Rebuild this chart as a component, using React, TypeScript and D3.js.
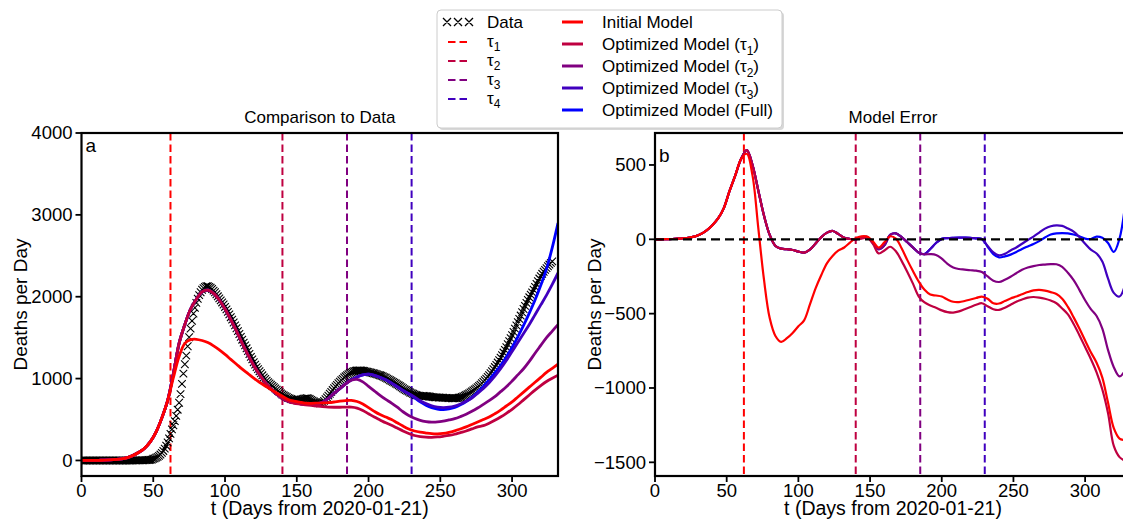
import React from "react";
import * as d3 from "d3";

// daily deaths (7-day smoothed), day 0 = 2020-01-21
const deaths = [
  0, 0, 0, 0, 0, 0, 0, 0, 0, 0,
  0, 0, 0, 0, 0, 0, 0, 0, 0, 0,
  0, 0, 0, 0, 0, 0, 0, 0, 0, 0,
  0, 0, 0, 0, 0, 0, 1, 1, 1, 1,
  1, 2, 2, 3, 3, 4, 5, 6, 8, 10,
  20, 26, 34, 44, 56, 72, 92, 116, 145, 180,
  220, 270, 325, 380, 430, 480, 545, 620, 705, 810,
  935, 1060, 1175, 1280, 1395, 1505, 1610, 1705, 1795, 1865,
  1925, 1975, 2020, 2055, 2085, 2105, 2120, 2130, 2128, 2120,
  2110, 2095, 2075, 2055, 2030, 2005, 1980, 1955, 1930, 1905,
  1875, 1845, 1815, 1785, 1750, 1720, 1685, 1650, 1615, 1580,
  1545, 1510, 1475, 1440, 1405, 1370, 1335, 1300, 1265, 1235,
  1200, 1170, 1140, 1115, 1090, 1065, 1040, 1015, 995, 975,
  955, 940, 925, 910, 895, 880, 865, 850, 835, 820,
  805, 795, 785, 775, 765, 758, 750, 745, 740, 737,
  735, 737, 740, 745, 750, 755, 758, 760, 757, 750,
  740, 730, 720, 712, 705, 700, 698, 702, 712, 728,
  748, 770, 792, 815, 838, 860, 882, 903, 923, 943,
  962, 980, 997, 1013, 1028, 1042, 1055, 1066, 1076, 1084,
  1090, 1095, 1098, 1100, 1100, 1098, 1095, 1092, 1088, 1084,
  1080, 1076, 1072, 1067, 1062, 1057, 1052, 1046, 1040, 1034,
  1027, 1018, 1010, 1000, 990, 980, 970, 960, 950, 940,
  930, 918, 906, 894, 882, 870, 860, 850, 840, 830,
  822, 814, 807, 800, 795, 791, 789, 788, 788, 787,
  786, 784, 781, 778, 776, 774, 772, 771, 770, 769,
  768, 767, 766, 765, 764, 763, 762, 761, 760, 760,
  760, 761, 763, 766, 770, 775, 782, 790, 799, 809,
  820, 831, 843, 855, 868, 881, 895, 910, 926, 943,
  961, 980, 1000, 1021, 1043, 1066, 1090, 1115, 1141, 1168,
  1196, 1225, 1255, 1286, 1318, 1351, 1385, 1420, 1456, 1493,
  1531, 1570, 1610, 1650, 1690, 1730, 1770, 1810, 1850, 1888,
  1925, 1960, 1993, 2024, 2053, 2085, 2120, 2155, 2190, 2222,
  2252, 2280, 2305, 2328, 2350, 2372, 2393, 2413, 2432,
];

// model curves, every 4 days from 0 to 332
const initialModel = [
  0, 0, 1, 2, 4, 7, 12, 20, 35, 62,
  100, 150, 230, 350, 520, 730, 1010, 1270, 1430, 1475,
  1480, 1465, 1440, 1400, 1350, 1295, 1235, 1175, 1115, 1060,
  1005, 955, 910, 865, 825, 785, 745, 725, 712, 700,
  698, 700, 702, 706, 714, 725, 732, 733, 720, 690,
  645, 600, 560, 530, 500, 460, 420, 385, 360, 345,
  335, 327, 325, 330, 343, 362, 385, 410, 440, 470,
  500, 530, 570, 615, 665, 715, 775, 835, 895, 955,
  1015, 1075, 1125, 1175,
];
const optTau1 = [
  0, 0, 1, 2, 4, 7, 12, 20, 35, 62,
  100, 150, 230, 350, 520, 730, 1060, 1430, 1660, 1850,
  1970, 2060, 2080, 2040, 1960, 1850, 1720, 1580, 1430, 1290,
  1160, 1050, 955, 875, 810, 760, 725, 700, 688, 680,
  672, 664, 657, 652, 650, 650, 652, 652, 640, 610,
  570, 530, 495, 460, 430, 395, 360, 330, 305, 292,
  285, 283, 287, 295, 305, 320, 340, 360, 385, 410,
  425, 455, 490, 530, 575, 625, 680, 740, 800, 860,
  915, 965, 1005, 1040,
];
const optTau2 = [
  0, 0, 1, 2, 4, 7, 12, 20, 35, 62,
  100, 150, 230, 350, 520, 730, 1060, 1430, 1660, 1850,
  1970, 2060, 2080, 2040, 1960, 1850, 1720, 1580, 1430, 1290,
  1160, 1050, 955, 875, 810, 760, 725, 705, 695, 690,
  685, 690, 710, 760, 820, 877, 935, 980, 990, 960,
  905, 850, 795, 745, 700, 650, 595, 550, 515, 490,
  475, 468, 470, 480, 495, 510, 535, 565, 600, 640,
  685, 730, 780, 840, 900, 970, 1045, 1120, 1210, 1310,
  1405, 1500, 1580, 1660,
];
const optTau3 = [
  0, 0, 1, 2, 4, 7, 12, 20, 35, 62,
  100, 150, 230, 350, 520, 730, 1060, 1430, 1660, 1850,
  1970, 2060, 2080, 2040, 1960, 1850, 1720, 1580, 1430, 1290,
  1160, 1050, 955, 875, 810, 760, 725, 705, 695, 690,
  685, 690, 710, 760, 820, 877, 935, 985, 1020, 1045,
  1055, 1040, 1015, 985, 945, 900, 855, 815, 775, 730,
  695, 668, 652, 646, 650, 665, 690, 722, 762, 820,
  880, 950, 1030, 1120, 1220, 1330, 1440, 1550, 1660, 1780,
  1900, 2020, 2150, 2290,
];
const optFull = [
  0, 0, 1, 2, 4, 7, 12, 20, 35, 62,
  100, 150, 230, 350, 520, 730, 1060, 1430, 1660, 1850,
  1970, 2060, 2080, 2040, 1960, 1850, 1720, 1580, 1430, 1290,
  1160, 1050, 955, 875, 810, 760, 725, 705, 695, 690,
  685, 690, 710, 760, 820, 877, 935, 985, 1020, 1045,
  1055, 1040, 1015, 985, 945, 900, 855, 815, 765, 715,
  675, 645, 628, 622, 630, 648, 680, 720, 770, 835,
  905, 985, 1070, 1160, 1265, 1380, 1510, 1650, 1800, 1960,
  2140, 2340, 2600, 2900,
];

// model error (model - data), every 4 days from 0 to 328
const errInitial = [
  0, 0, 1, 2, 4, 7, 12, 20, 35, 60,
  95, 140, 210, 325, 430, 540, 575, 430, 80, -270,
  -530, -650, -690, -665, -630, -585, -545, -440, -330, -240,
  -160, -110, -75, -55, -22, 8, 20, 18, -15, -56,
  -20, 20, 5, -60, -140, -215, -285, -340, -372, -378,
  -385, -405, -420, -422, -415, -405, -395, -385, -400, -430,
  -432, -415, -398, -385, -370, -355, -343, -340, -345, -355,
  -368, -400, -455, -525, -600, -680, -760, -830, -930, -1100,
  -1270, -1340, -1350,
];
const errTau1 = [
  0, 0, 1, 2, 4, 7, 12, 20, 35, 60,
  95, 140, 210, 325, 430, 540, 600, 500, 330, 160,
  30, -45, -63, -67, -72, -82, -90, -70, -28, 15,
  45, 56, 35, 10, 2, 0, 5, 10, -30, -95,
  -75, -50, -80, -145, -220, -300, -385, -425, -445, -460,
  -478, -490, -493, -485, -470, -455, -440, -430, -450, -470,
  -475, -460, -440, -420, -405, -392, -388, -392, -400, -412,
  -430, -465, -505, -570, -645, -725, -805, -895, -1010, -1170,
  -1390, -1465, -1490,
];
const errTau2 = [
  0, 0, 1, 2, 4, 7, 12, 20, 35, 60,
  95, 140, 210, 325, 430, 540, 600, 500, 330, 160,
  30, -45, -63, -67, -72, -82, -90, -70, -28, 15,
  45, 56, 35, 10, 2, 0, 10, 15, -25, -67,
  -40, 30, 40, 15, -20, -56, -90, -101, -100, -105,
  -130, -165, -190, -200, -204, -208, -211, -220, -250, -278,
  -287, -272, -252, -228, -205, -190, -180, -173, -170, -167,
  -168, -185, -225, -275, -340, -410, -470, -516, -600, -745,
  -860, -922, -880,
];
const errTau3 = [
  0, 0, 1, 2, 4, 7, 12, 20, 35, 60,
  95, 140, 210, 325, 430, 540, 600, 500, 330, 160,
  30, -45, -63, -67, -72, -82, -90, -70, -28, 15,
  45, 56, 35, 10, 2, 0, 10, 15, -25, -67,
  -40, 30, 40, 15, -20, -56, -90, -100, -65, -25,
  3, 8, 10, 11, 11, 10, 6, 2, -45, -88,
  -108, -98, -75, -55, -30, -5, 18, 45, 72, 88,
  94, 90, 72, 52, 15, -30, -70, -95, -150, -265,
  -360, -385, -300,
];
const errFull = [
  0, 0, 1, 2, 4, 7, 12, 20, 35, 60,
  95, 140, 210, 325, 430, 540, 600, 500, 330, 160,
  30, -45, -63, -67, -72, -82, -90, -70, -28, 15,
  45, 56, 35, 10, 2, 0, 10, 15, -25, -67,
  -40, 30, 40, 15, -20, -56, -90, -100, -65, -25,
  3, 8, 10, 11, 11, 10, 6, 2, -50, -100,
  -122, -115, -103, -85, -65, -48, -32, -12, 12, 32,
  40, 42, 40, 32, 20, 5, 2, 18, 10, -25,
  -85, 5, 240,
];

const modelDays = d3.range(0, 333, 4);
const errDays = d3.range(0, 329, 4);
const tauDays = [62, 140, 185, 230];
const tauLabels = ["1", "2", "3", "4"];
const modelLabels = ["Initial Model", "Optimized Model (τ1)", "Optimized Model (τ2)", "Optimized Model (τ3)", "Optimized Model (Full)"];
const xTicks = [0, 50, 100, 150, 200, 250, 300];
const yTicksL = [0, 1000, 2000, 3000, 4000];
const yTicksR = [-1500, -1000, -500, 0, 500];

const colors = ["#ff0000", "#bf0040", "#800080", "#4000bf", "#0000ff"];
const font = "'Liberation Sans', Arial, Helvetica, sans-serif";

const xL = d3.scaleLinear().domain([0, 332]).range([81.5, 558]);
const yL = d3.scaleLinear().domain([-190, 4000]).range([476, 133]);
const xR = d3.scaleLinear().domain([0, 332]).range([655, 1131]);
const yR = d3.scaleLinear().domain([-1592, 715]).range([476, 133]);
const fmt = d3.format("");

function Axes({ x, y, yTicks, title, letter, letterY }) {
  const [x0, x1] = x.range();
  const [y0, y1] = y.range();
  return (
    <g fontFamily={font} fill="#000">
      {xTicks.map(t => (
        <g key={"x" + t}>
          <line x1={x(t)} x2={x(t)} y1={y0} y2={y0 + 6} stroke="#000" strokeWidth={1.8} />
          <text x={x(t)} y={497} fontSize={18.5} textAnchor="middle">{t}</text>
        </g>
      ))}
      {yTicks.map(t => (
        <g key={"y" + t}>
          <line x1={x0 - 6} x2={x0} y1={y(t)} y2={y(t)} stroke="#000" strokeWidth={1.8} />
          <text x={x0 - 9} y={y(t)} dy="0.35em" fontSize={18.5} textAnchor="end">{fmt(t)}</text>
        </g>
      ))}
      <rect x={x0} y={y1} width={x1 - x0} height={y0 - y1} fill="none" stroke="#000" strokeWidth={2.2} />
      <text x={(x0 + x1) / 2} y={123} fontSize={17} textAnchor="middle">{title}</text>
      <text x={(x0 + x1) / 2} y={515} fontSize={19.5} textAnchor="middle">t (Days from 2020-01-21)</text>
      <text transform={`translate(${x0 - 54.5},${(y0 + y1) / 2}) rotate(-90)`} fontSize={19} textAnchor="middle">Deaths per Day</text>
      <text x={x0 + 4} y={letterY} fontSize={19}>{letter}</text>
    </g>
  );
}

function Sub({ n }) {
  return <tspan fontSize={12} dy={4.5}>{n}</tspan>;
}

export default function App() {
  const lineL = d3.line<number>().x((_, i) => xL(modelDays[i])).y(v => yL(v)).curve(d3.curveCatmullRom.alpha(0.5));
  const lineR = d3.line<number>().x((_, i) => xR(errDays[i])).y(v => yR(v)).curve(d3.curveCatmullRom.alpha(0.5));
  const models = [initialModel, optTau1, optTau2, optTau3, optFull];
  const errors = [errInitial, errTau1, errTau2, errTau3, errFull];
  const order = [4, 3, 2, 1, 0];

  const marks = deaths
    .map((v, i) => {
      const cx = xL(i), cy = yL(v), s = 3.8;
      return `M${cx - s},${cy - s}L${cx + s},${cy + s}M${cx - s},${cy + s}L${cx + s},${cy - s}`;
    })
    .join("");

  const legLeftRows = [22, 42, 61, 80, 99];
  const legRightRows = [22, 44, 66, 88, 110];

  return (
    <svg width={1123} height={519} style={{ position: "absolute", left: 0, top: 0, background: "#fff" }}>
      <defs>
        <clipPath id="clipL"><rect x={81.5} y={133} width={476.5} height={343} /></clipPath>
        <clipPath id="clipR"><rect x={655} y={133} width={476} height={343} /></clipPath>
      </defs>

      {/* left panel */}
      <g clipPath="url(#clipL)">
        {tauDays.map((t, i) => (
          <line key={t} x1={xL(t)} x2={xL(t)} y1={133} y2={476} stroke={colors[i]} strokeWidth={2} strokeDasharray="7.5,4" />
        ))}
        <path d={marks} stroke="#000" strokeWidth={1.1} fill="none" />
        {order.map(k => (
          <path key={k} d={lineL(models[k])} fill="none" stroke={colors[k]} strokeWidth={2.8} />
        ))}
      </g>
      <Axes x={xL} y={yL} yTicks={yTicksL} title="Comparison to Data" letter="a" letterY={152} />

      {/* right panel */}
      <g clipPath="url(#clipR)">
        {tauDays.map((t, i) => (
          <line key={t} x1={xR(t)} x2={xR(t)} y1={133} y2={476} stroke={colors[i]} strokeWidth={2} strokeDasharray="7.5,4" />
        ))}
        {order.map(k => (
          <path key={k} d={lineR(errors[k])} fill="none" stroke={colors[k]} strokeWidth={2.2} />
        ))}
        <line x1={655} x2={1131} y1={yR(0)} y2={yR(0)} stroke="#000" strokeWidth={2.2} strokeDasharray="9,5" />
      </g>
      <Axes x={xR} y={yR} yTicks={yTicksR} title="Model Error" letter="b" letterY={162} />

      {/* legend */}
      <g fontFamily={font} fontSize={17}>
        <rect x={439} y={12} width={345} height={118} rx={4} fill="#d8d8d8" />
        <rect x={437} y={10} width={345} height={118} rx={4} fill="#fff" stroke="#cccccc" strokeWidth={1} />
        <path
          d={[447, 458, 469].map(cx => `M${cx - 4},${18}L${cx + 4},${26}M${cx - 4},${26}L${cx + 4},${18}`).join("")}
          stroke="#000" strokeWidth={1.3} fill="none"
        />
        <text x={487} y={legLeftRows[0] + 6}>Data</text>
        {tauLabels.map((n, i) => (
          <g key={n}>
            <line x1={448} x2={468} y1={legLeftRows[i + 1]} y2={legLeftRows[i + 1]} stroke={colors[i]} strokeWidth={2} strokeDasharray="7.5,4" />
            <text x={487} y={legLeftRows[i + 1] + 4.5}>τ<Sub n={n} /></text>
          </g>
        ))}
        {modelLabels.map((lab, i) => (
          <g key={lab}>
            <line x1={562} x2={583} y1={legRightRows[i]} y2={legRightRows[i]} stroke={colors[i]} strokeWidth={3} />
            <text x={602} y={legRightRows[i] + 6}>
              {i >= 1 && i <= 3 ? (
                <>
                  {"Optimized Model (τ"}
                  <Sub n={String(i)} />
                  <tspan dy={-4.5}>)</tspan>
                </>
              ) : (
                lab
              )}
            </text>
          </g>
        ))}
      </g>
    </svg>
  );
}
